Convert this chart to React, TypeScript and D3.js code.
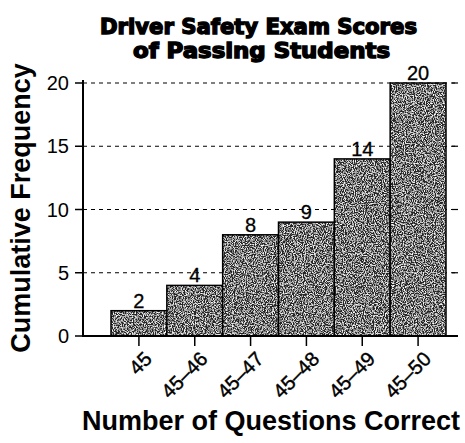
import React from "react";
import * as d3 from "d3";

const categories = ["45", "45–46", "45–47", "45–48", "45–49", "45–50"];
const cumulative = [2, 4, 8, 9, 14, 20];
const yTicks = [0, 5, 10, 15, 20];
const titleLines = ["Driver Safety Exam Scores", "of Passing Students"];

export default function App() {
  const W = 465, H = 443;
  const x = d3.scaleBand<string>().domain(categories).range([111, 446]).padding(0);
  const y = d3.scaleLinear().domain([0, 20]).range([336, 83]);
  const sans = "Liberation Sans, Arial, sans-serif";
  const titleGeo = [
    { cx: 258.5, y: 34, len: 317 },
    { cx: 261.5, y: 58, len: 257 },
  ];
  return (
    <svg width={W} height={H} style={{ position: "absolute", left: 0, top: 0, background: "#fff" }}>
      <defs>
        <filter id="grain" x="0" y="0" width="100%" height="100%">
          <feTurbulence type="fractalNoise" baseFrequency="0.9" numOctaves="2" seed="3" result="noise" />
          <feColorMatrix in="noise" type="matrix"
            values="0 0 0 0 0  0 0 0 0 0  0 0 0 0 0  -3 0 0 0 1.7" result="mask" />
          <feFlood floodColor="#ffffff" result="white" />
          <feComposite in="white" in2="mask" operator="in" result="spots" />
          <feMerge>
            <feMergeNode in="SourceGraphic" />
            <feMergeNode in="spots" />
          </feMerge>
        </filter>
      </defs>
      {titleLines.map((t, i) => (
        <text key={t} x={titleGeo[i].cx} y={titleGeo[i].y} textAnchor="middle"
          textLength={titleGeo[i].len} lengthAdjust="spacingAndGlyphs"
          fontFamily="Liberation Sans Narrow, DejaVu Sans Condensed, sans-serif"
          fontWeight="bold" fontSize={21} style={{ stroke: "#000", strokeWidth: 1.3 }}>{t}</text>
      ))}
      {yTicks.filter(v => v > 0).map(v => (
        <g key={"g" + v}>
          <line x1={83} x2={456} y1={y(v)} y2={y(v)} stroke="#000"
            strokeWidth={1.2} strokeDasharray="4,4" />
          <line x1={452} x2={458} y1={y(v)} y2={y(v)} stroke="#000" strokeWidth={1.2} />
        </g>
      ))}
      {categories.map((c, i) => {
        const cx = x(c)! + x.bandwidth() / 2;
        return (
          <g key={c}>
            <rect x={x(c)} y={y(cumulative[i])} width={x.bandwidth()} height={y(0) - y(cumulative[i])}
              fill="#262626" filter="url(#grain)" />
            <rect x={x(c)} y={y(cumulative[i])} width={x.bandwidth()} height={y(0) - y(cumulative[i])}
              fill="none" stroke="#000" strokeWidth={1.5} />
            <text x={cx} y={y(cumulative[i]) - 3} textAnchor="middle"
              fontFamily={sans} fontSize={20} style={{ stroke: "#000", strokeWidth: 0.3 }}>{cumulative[i]}</text>
            <line x1={cx} x2={cx} y1={336} y2={346} stroke="#000" strokeWidth={1.5} />
            <text transform={`translate(${cx + 4},${350}) rotate(-45)`}
              textAnchor="end" dominantBaseline="hanging" fontFamily={sans} fontSize={20}
              style={{ stroke: "#000", strokeWidth: 0.4 }}>{c}</text>
          </g>
        );
      })}
      <line x1={83} x2={83} y1={80} y2={337} stroke="#000" strokeWidth={2} />
      <line x1={82} x2={458} y1={336} y2={336} stroke="#000" strokeWidth={2} />
      {yTicks.map(v => (
        <g key={"t" + v}>
          <line x1={75} x2={83} y1={y(v)} y2={y(v)} stroke="#000" strokeWidth={1.5} />
          <text x={69} y={y(v)} textAnchor="end" dominantBaseline="central" fontFamily={sans}
            fontSize={20}>{v}</text>
        </g>
      ))}
      <text transform="translate(30,208) rotate(-90)" textAnchor="middle" fontFamily={sans}
        fontWeight="bold" fontSize={27}>Cumulative Frequency</text>
      <text x={271} y={430} textAnchor="middle" fontFamily={sans} fontWeight="bold"
        fontSize={27}>Number of Questions Correct</text>
    </svg>
  );
}
